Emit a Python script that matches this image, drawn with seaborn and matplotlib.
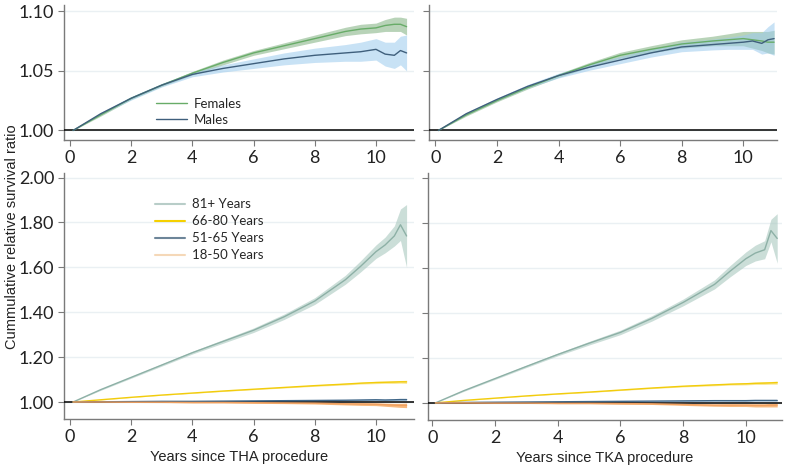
import numpy as np
import pandas as pd
import matplotlib
matplotlib.use("Agg")
import matplotlib.pyplot as plt
import seaborn as sns

# time points (years since procedure)
years = [0.1, 1, 2, 3, 4, 5, 6, 7, 8, 9, 9.5, 10, 10.3, 10.6, 10.8, 11]

# sex, THA
tha_female = [1.000, 1.013, 1.027, 1.038, 1.048, 1.057, 1.065, 1.071, 1.077, 1.083, 1.085, 1.086, 1.088, 1.089, 1.089, 1.087]
tha_female_hw = [0, 0.001, 0.001, 0.001, 0.0015, 0.002, 0.002, 0.0025, 0.003, 0.0035, 0.004, 0.004, 0.005, 0.006, 0.006, 0.007]
tha_male = [1.000, 1.014, 1.027, 1.038, 1.047, 1.052, 1.056, 1.060, 1.063, 1.065, 1.066, 1.068, 1.064, 1.063, 1.067, 1.065]
tha_male_hw = [0, 0.001, 0.0015, 0.0015, 0.002, 0.003, 0.004, 0.005, 0.006, 0.007, 0.008, 0.009, 0.010, 0.011, 0.012, 0.015]

# sex, TKA
tka_female = [1.000, 1.013, 1.025, 1.036, 1.046, 1.055, 1.063, 1.068, 1.0725, 1.075, 1.076, 1.077, 1.076, 1.075, 1.074, 1.074]
tka_female_hw = [0, 0.001, 0.001, 0.0012, 0.0015, 0.002, 0.0025, 0.003, 0.0035, 0.004, 0.005, 0.006, 0.007, 0.008, 0.009, 0.010]
tka_male = [1.000, 1.014, 1.026, 1.037, 1.046, 1.053, 1.059, 1.065, 1.070, 1.072, 1.073, 1.074, 1.075, 1.073, 1.076, 1.077]
tka_male_hw = [0, 0.001, 0.0012, 0.0015, 0.002, 0.0025, 0.003, 0.0035, 0.004, 0.0045, 0.005, 0.006, 0.007, 0.009, 0.011, 0.014]

# age groups, THA
tha_81 = [1.000, 1.055, 1.110, 1.165, 1.220, 1.270, 1.320, 1.380, 1.450, 1.545, 1.605, 1.670, 1.700, 1.740, 1.790, 1.740]
tha_81_hw = [0, 0.003, 0.004, 0.005, 0.006, 0.008, 0.010, 0.012, 0.015, 0.020, 0.025, 0.030, 0.035, 0.045, 0.070, 0.140]
tha_66 = [1.000, 1.010, 1.021, 1.031, 1.040, 1.049, 1.057, 1.065, 1.073, 1.080, 1.084, 1.087, 1.088, 1.089, 1.090, 1.090]
tha_66_hw = [0, 0.001, 0.001, 0.001, 0.0015, 0.002, 0.002, 0.0025, 0.003, 0.004, 0.004, 0.005, 0.005, 0.006, 0.006, 0.007]
tha_51 = [1.000, 1.001, 1.002, 1.003, 1.003, 1.004, 1.005, 1.006, 1.007, 1.008, 1.009, 1.010, 1.009, 1.010, 1.011, 1.011]
tha_51_hw = [0, 0.0005, 0.0005, 0.001, 0.001, 0.001, 0.0015, 0.0015, 0.002, 0.002, 0.0025, 0.003, 0.003, 0.003, 0.004, 0.004]
tha_18 = [1.000, 1.000, 0.999, 0.999, 0.998, 0.998, 0.997, 0.996, 0.995, 0.992, 0.991, 0.990, 0.988, 0.986, 0.985, 0.985]
tha_18_hw = [0, 0.001, 0.001, 0.0015, 0.002, 0.002, 0.003, 0.003, 0.004, 0.005, 0.006, 0.006, 0.007, 0.008, 0.009, 0.010]

# age groups, TKA
tka_81 = [1.000, 1.054, 1.108, 1.162, 1.215, 1.265, 1.313, 1.375, 1.446, 1.526, 1.585, 1.640, 1.665, 1.680, 1.765, 1.730]
tka_81_hw = [0, 0.003, 0.004, 0.005, 0.006, 0.008, 0.010, 0.012, 0.015, 0.020, 0.025, 0.030, 0.035, 0.040, 0.050, 0.110]
tka_66 = [1.000, 1.011, 1.021, 1.031, 1.040, 1.048, 1.057, 1.066, 1.074, 1.080, 1.083, 1.085, 1.087, 1.088, 1.089, 1.090]
tka_66_hw = [0, 0.001, 0.001, 0.001, 0.0015, 0.002, 0.002, 0.0025, 0.003, 0.004, 0.004, 0.005, 0.005, 0.006, 0.006, 0.007]
tka_51 = [1.000, 1.002, 1.003, 1.004, 1.005, 1.006, 1.007, 1.008, 1.009, 1.010, 1.010, 1.010, 1.011, 1.011, 1.011, 1.011]
tka_51_hw = [0, 0.0005, 0.0005, 0.001, 0.001, 0.001, 0.0015, 0.0015, 0.002, 0.002, 0.0025, 0.003, 0.003, 0.003, 0.003, 0.003]
tka_18 = [1.000, 1.000, 0.999, 0.999, 0.998, 0.998, 0.997, 0.996, 0.993, 0.990, 0.990, 0.990, 0.989, 0.989, 0.990, 0.990]
tka_18_hw = [0, 0.001, 0.001, 0.0015, 0.002, 0.002, 0.003, 0.003, 0.004, 0.005, 0.006, 0.006, 0.007, 0.007, 0.008, 0.008]

sex_labels = ["Females", "Males"]
age_labels = ["81+ Years", "66-80 Years", "51-65 Years", "18-50 Years"]

sex_line = {"Females": "#68ac68", "Males": "#3f5f7c"}
sex_band = {"Females": ("#7fb07f", 0.55), "Males": ("#9ccbee", 0.55)}
age_line = {"81+ Years": "#8db0a6", "66-80 Years": "#f2cc0c", "51-65 Years": "#3f6688", "18-50 Years": "#f0a060"}
age_band = {"81+ Years": ("#a9c8bf", 0.6), "66-80 Years": ("#f7d84a", 0.6),
            "51-65 Years": ("#6fa0cc", 0.6), "18-50 Years": ("#f59a45", 0.7)}
age_legend = {"81+ Years": "#b8cdc8", "66-80 Years": "#f5d000", "51-65 Years": "#6d8599", "18-50 Years": "#f5d8b8"}


def build(values, labels):
    rows = []
    for lab, (v, hw) in zip(labels, values):
        for t, y, h in zip(years, v, hw):
            rows.append({"year": t, "ratio": y, "lo": y - h, "hi": y + h, "group": lab})
    return pd.DataFrame(rows)


df_tha_sex = build([(tha_female, tha_female_hw), (tha_male, tha_male_hw)], sex_labels)
df_tka_sex = build([(tka_female, tka_female_hw), (tka_male, tka_male_hw)], sex_labels)
df_tha_age = build([(tha_81, tha_81_hw), (tha_66, tha_66_hw), (tha_51, tha_51_hw), (tha_18, tha_18_hw)], age_labels)
df_tka_age = build([(tka_81, tka_81_hw), (tka_66, tka_66_hw), (tka_51, tka_51_hw), (tka_18, tka_18_hw)], age_labels)

sns.set_theme(style="white")
plt.rcParams["font.family"] = ["Lato", "DejaVu Sans"]

fig = plt.figure(figsize=(7.89, 4.73), dpi=100)
ax_tl = fig.add_axes([0.081, 0.704, 0.444, 0.285])
ax_tr = fig.add_axes([0.544, 0.704, 0.441, 0.285])
ax_bl = fig.add_axes([0.081, 0.114, 0.444, 0.520])
ax_br = fig.add_axes([0.542, 0.112, 0.449, 0.522])


def draw(ax, df, labels, line_c, band_c):
    for lab in labels:
        sub = df[df["group"] == lab]
        c, a = band_c[lab]
        ax.fill_between(sub["year"], sub["lo"], sub["hi"], color=c, alpha=a, lw=0, zorder=2)
    ax.axhline(1.0, color="black", lw=1.1, zorder=3)
    sns.lineplot(data=df, x="year", y="ratio", hue="group", hue_order=labels,
                 palette=line_c, lw=1.0, ax=ax, legend=False, zorder=4)


draw(ax_tl, df_tha_sex, sex_labels, sex_line, sex_band)
draw(ax_tr, df_tka_sex, sex_labels, sex_line, sex_band)
draw(ax_bl, df_tha_age, age_labels, age_line, age_band)
draw(ax_br, df_tka_age, age_labels, age_line, age_band)

for ax in (ax_tl, ax_tr):
    ax.set_ylim(0.992, 1.105)
    ax.set_yticks([1.00, 1.05, 1.10])
for ax in (ax_bl, ax_br):
    ax.set_ylim(0.924, 2.02)
    ax.set_yticks([1.00, 1.20, 1.40, 1.60, 1.80, 2.00])
ax_tl.set_xlim(-0.2, 11.25)
ax_tr.set_xlim(-0.2, 11.1)
ax_bl.set_xlim(-0.2, 11.25)
ax_br.set_xlim(-0.15, 11.15)

for ax in (ax_tl, ax_tr, ax_bl, ax_br):
    ax.set_xticks([0, 2, 4, 6, 8, 10])
    ax.yaxis.grid(True, color="#eaf0f3", lw=1.0, zorder=0)
    ax.xaxis.grid(False)
    for s in ("top", "right"):
        ax.spines[s].set_visible(False)
    for s in ("left", "bottom"):
        ax.spines[s].set_color("#7a7a7a")
        ax.spines[s].set_linewidth(1.0)
    ax.tick_params(axis="both", which="both", direction="out", length=4, width=0.8,
                   color="#7a7a7a", labelsize=13, labelcolor="#222222", pad=3,
                   left=True, bottom=True)
    ax.set_xlabel("")
    ax.set_ylabel("")
    ax.set_facecolor("white")

ax_tl.set_yticklabels(["1.00", "1.05", "1.10"])
ax_bl.set_yticklabels(["1.00", "1.20", "1.40", "1.60", "1.80", "2.00"])
ax_tr.set_yticklabels([])
ax_br.set_yticklabels([])

ax_bl.set_xlabel("Years since THA procedure", fontsize=10.5, family="Liberation Sans", color="#222222", labelpad=4)
ax_br.set_xlabel("Years since TKA procedure", fontsize=10.5, family="Liberation Sans", color="#222222", labelpad=4)
fig.text(0.015, 0.5, "Cummulative relative survival ratio", rotation=90, va="center", ha="center",
         fontsize=10.5, family="Liberation Sans", color="#222222")

sex_handles = [plt.Line2D([], [], color=sex_line[l], lw=1.0) for l in sex_labels]
ax_tl.legend(sex_handles, sex_labels, loc="upper left", bbox_to_anchor=(0.245, 0.36), frameon=False,
             fontsize=9.5, handlelength=2.3, labelspacing=0.3, handletextpad=0.5, borderpad=0)
age_handles = [plt.Line2D([], [], color=age_legend[l], lw=1.5) for l in age_labels]
ax_bl.legend(age_handles, age_labels, loc="upper left", bbox_to_anchor=(0.24, 0.925), frameon=False,
             fontsize=9.5, handlelength=2.3, labelspacing=0.38, handletextpad=0.5, borderpad=0)

fig.savefig("out.png", dpi=100, facecolor="white")
